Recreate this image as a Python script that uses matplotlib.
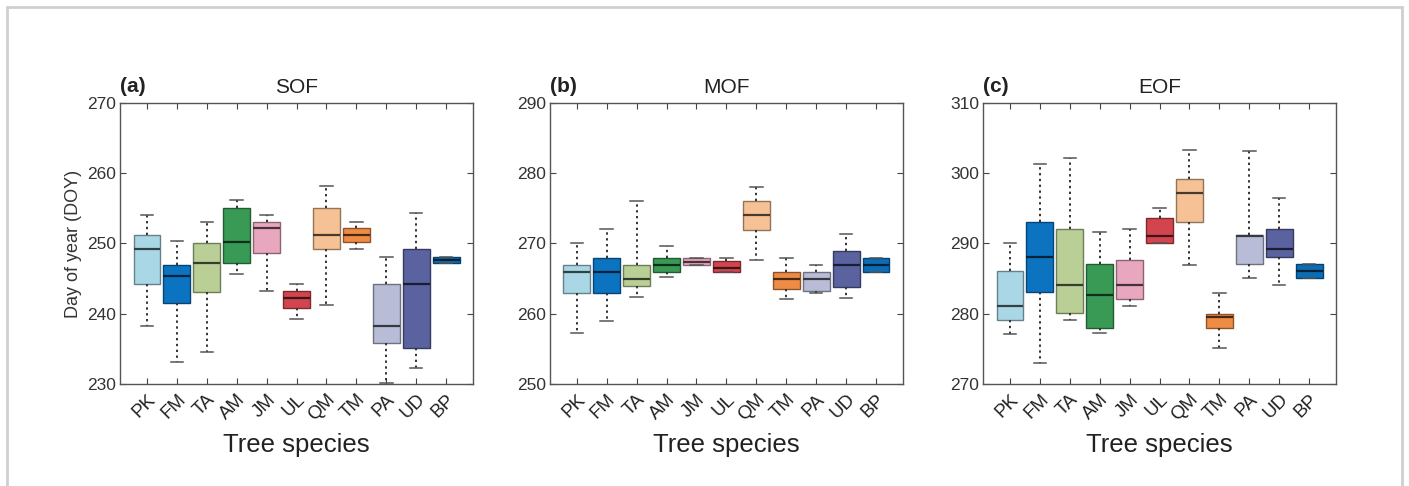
import matplotlib
matplotlib.use("Agg")
import matplotlib.pyplot as plt
import matplotlib.colors as mcolors
from matplotlib.patches import Rectangle

plt.rcParams["font.family"] = ["Liberation Sans", "DejaVu Sans"]

species = ["PK", "FM", "TA", "AM", "JM", "UL", "QM", "TM", "PA", "UD", "BP"]
colors = ["#a9d7e6", "#0b73c0", "#b9cf95", "#389a55", "#e8a6bf", "#d2454f",
          "#f5c195", "#ee8b45", "#b8bcd6", "#5a62a0", "#0b6db6"]

# per species: [whisker low, q1, median, q3, whisker high]
sof = [
    [238.2, 244.3, 249.2, 251.2, 254.1],
    [233.1, 241.5, 245.3, 246.9, 250.3],
    [234.6, 243.1, 247.2, 250.1, 253.1],
    [245.6, 247.2, 250.2, 255.1, 256.2],
    [243.2, 248.7, 252.2, 253.1, 254.1],
    [239.2, 240.8, 242.3, 243.3, 244.3],
    [241.3, 249.2, 251.2, 255.1, 258.2],
    [249.2, 250.2, 251.2, 252.2, 253.1],
    [230.2, 235.8, 238.2, 244.3, 248.1],
    [232.3, 235.1, 244.3, 249.2, 254.4],
    [247.2, 247.2, 247.7, 248.1, 248.1],
]
mof = [
    [257.3, 263.0, 266.0, 267.0, 270.0],
    [258.9, 263.0, 266.0, 268.0, 272.1],
    [262.4, 264.0, 265.0, 267.0, 276.0],
    [265.2, 265.9, 267.0, 268.0, 269.6],
    [267.0, 267.0, 267.4, 268.0, 268.0],
    [266.0, 266.0, 266.5, 267.5, 268.0],
    [267.7, 271.9, 274.0, 276.0, 278.0],
    [262.1, 263.5, 265.0, 266.0, 267.9],
    [263.0, 263.3, 265.0, 266.0, 266.9],
    [262.3, 263.8, 267.0, 269.0, 271.3],
    [266.0, 266.0, 267.0, 268.0, 268.0],
]
eof = [
    [277.1, 279.1, 281.1, 286.1, 290.1],
    [273.0, 283.1, 288.1, 293.1, 301.3],
    [279.1, 280.1, 284.1, 292.1, 302.2],
    [277.3, 278.0, 282.6, 287.1, 291.7],
    [281.1, 282.1, 284.1, 287.7, 292.1],
    [290.1, 290.1, 291.1, 293.6, 295.1],
    [286.9, 293.1, 297.2, 299.2, 303.3],
    [275.1, 278.0, 279.6, 280.0, 283.0],
    [285.1, 287.1, 291.1, 291.2, 303.2],
    [284.1, 288.1, 289.2, 292.1, 296.5],
    [285.1, 285.1, 286.1, 287.1, 287.1],
]

panels = [
    ("(a)", "SOF", sof, (230, 270)),
    ("(b)", "MOF", mof, (250, 290)),
    ("(c)", "EOF", eof, (270, 310)),
]
lefts = [0.0852, 0.3903, 0.6977]


def darker(c, f):
    r, g, b = mcolors.to_rgb(c)
    return (r * f, g * f, b * f)


fig = plt.figure(figsize=(14.09, 4.86), dpi=100)
fig.patches.append(Rectangle((0.005, -0.1), 0.99, 1.085, transform=fig.transFigure,
                             fill=False, edgecolor="#cfcfcf", linewidth=2))

for i, (tag, name, data, ylim) in enumerate(panels):
    ax = fig.add_axes([lefts[i], 0.21, 0.2505, 0.578])
    stats = [dict(whislo=d[0], q1=d[1], med=d[2], q3=d[3], whishi=d[4], fliers=[])
             for d in data]
    pos = list(range(1, len(species) + 1))
    res = ax.bxp(stats, positions=pos, widths=0.9, patch_artist=True,
                 showfliers=False, capwidths=0.42,
                 whiskerprops=dict(linestyle=(0, (1.2, 1.8)), linewidth=1.4, color="#333333"),
                 capprops=dict(linewidth=1.1, color="#555555"),
                 medianprops=dict(linewidth=1.6))
    for j, box in enumerate(res["boxes"]):
        box.set_facecolor(colors[j])
        box.set_edgecolor(darker(colors[j], 0.6))
        box.set_linewidth(1.0)
        res["medians"][j].set_color(darker(colors[j], 0.3))

    ax.set_xlim(0.1, 11.9)
    ax.set_ylim(*ylim)
    ax.set_yticks(range(ylim[0], ylim[1] + 1, 10))
    ax.set_xticks(pos)
    ax.set_xticklabels(species, rotation=45, ha="right", rotation_mode="anchor",
                       fontsize=13.5, color="#222222")
    ax.tick_params(axis="both", direction="in", top=True, right=True,
                   length=4, width=0.8, color="#444444")
    ax.tick_params(axis="y", labelsize=12.5, labelcolor="#333333", pad=3)
    ax.tick_params(axis="x", pad=5)
    for s in ax.spines.values():
        s.set_color("#555555")
        s.set_linewidth(1.0)

    ax.set_title(name, fontsize=15, pad=7, color="#222222")
    ax.text(0.0, 1.025, tag, transform=ax.transAxes, ha="left", va="bottom",
            fontsize=15, fontweight="bold", color="#222222")
    ax.set_xlabel("Tree species", fontsize=18.5, color="#222222")
    ax.xaxis.set_label_coords(0.5, -0.175)
    if i == 0:
        ax.set_ylabel("Day of year (DOY)", fontsize=13, color="#333333")
        ax.yaxis.set_label_coords(-0.108, 0.5)

fig.savefig("out.png", dpi=100)
